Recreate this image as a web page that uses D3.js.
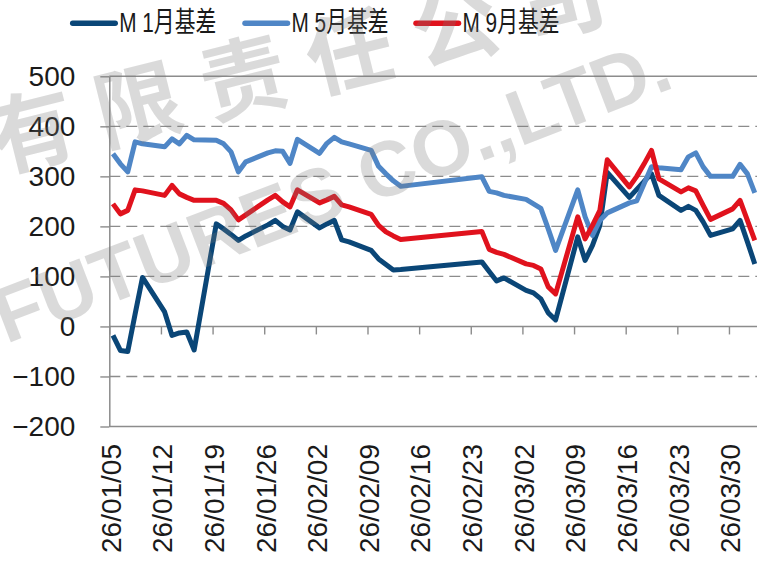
<!DOCTYPE html>
<html>
<head>
<meta charset="utf-8">
<script src="https://cdn.jsdelivr.net/npm/d3@7"></script>
<style>
  body { margin: 0; background: #fff; }
  svg { display: block; }
</style>
</head>
<body>
<div id="chart"></div>
<script>
"use strict";

// trading days (Feb 14-23 is the spring festival break)
const dates = [
  "2026-01-05","2026-01-06","2026-01-07","2026-01-08","2026-01-09",
  "2026-01-12","2026-01-13","2026-01-14","2026-01-15","2026-01-16",
  "2026-01-19","2026-01-20","2026-01-21","2026-01-22","2026-01-23",
  "2026-01-26","2026-01-27","2026-01-28","2026-01-29","2026-01-30",
  "2026-02-02","2026-02-03","2026-02-04","2026-02-05","2026-02-06",
  "2026-02-09","2026-02-10","2026-02-11","2026-02-12","2026-02-13",
  "2026-02-24","2026-02-25","2026-02-26","2026-02-27",
  "2026-03-02","2026-03-03","2026-03-04","2026-03-05","2026-03-06",
  "2026-03-09","2026-03-10","2026-03-11","2026-03-12","2026-03-13",
  "2026-03-16","2026-03-17","2026-03-18","2026-03-19","2026-03-20",
  "2026-03-23","2026-03-24","2026-03-25","2026-03-26","2026-03-27",
  "2026-03-30","2026-03-31","2026-04-01","2026-04-02"
];

const m1Basis = [
  -18, -48, -50, 25, 98,
  29, -18, -13, -11, -47,
  205, 195, 184, 172, 181,
  203, 212, 200, 193, 229,
  197, 205, 212, 173, 169,
  152, 135, 124, 113, 114,
  129, 110, 91, 97,
  72, 67, 55, 27, 13,
  179, 132, 162, 202, 308,
  258, 274, 290, 305, 262,
  232, 240, 232, 209, 182,
  195, 212, 169, 125
];

const m5Basis = [
  345, 325, 309, 369, 365,
  359, 375, 365, 382, 373,
  372, 365, 349, 309, 329,
  347, 351, 350, 326, 374,
  346, 366, 378, 369, 365,
  352, 320, 305, 291, 280,
  299, 270, 267, 262,
  254, 245, 236, 195, 152,
  273, 219, 182, 212, 227,
  247, 251, 285, 319, 317,
  313, 339, 347, 319, 300,
  300, 324, 305, 267
];

const m9Basis = [
  245, 225, 232, 273, 271,
  262, 282, 265, 258, 252,
  252, 246, 233, 213, 223,
  253, 262, 249, 239, 273,
  247, 253, 260, 243, 239,
  224, 202, 189, 181, 174,
  190, 154, 148, 144,
  125, 122, 115, 79, 65,
  219, 175, 202, 232, 333,
  279, 300, 325, 352, 295,
  269, 277, 271, 242, 214,
  235, 252, 212, 172
];

const seriesNames = ["M 1月基差", "M 5月基差", "M 9月基差"];
const seriesColors = ["#0a4677", "#4f86c6", "#e0121d"];
const yTicks = [-200, -100, 0, 100, 200, 300, 400, 500];

const msm = {
  width: 757,
  height: 561,
  left: 109.3,
  top: 76.3,
  bottom: 426.5,
  dayWidth: 7.377
};

const fontFamily = '"Liberation Sans", Arial, "Noto Sans CJK SC", sans-serif';
const gridColor = "#8c8c8c";

const parseDate = d3.utcParse("%Y-%m-%d");
const dateValues = dates.map(parseDate);

const svg = d3.select("#chart")
  .append("svg")
  .attr("width", msm.width)
  .attr("height", msm.height)
  .style("font-family", fontFamily);

// date axis: each day is one slot, points sit in the middle of their slot
const start = parseDate("2026-01-05");
const end = parseDate("2026-04-04");
const x = d3.scaleUtc()
  .domain([start, end])
  .range([msm.left, msm.left + d3.utcDay.count(start, end) * msm.dayWidth]);

const y = d3.scaleLinear()
  .domain([-200, 500])
  .range([msm.bottom, msm.top]);

// horizontal grid lines, dashed except top, zero and bottom
svg.append("g")
  .selectAll("line")
  .data(yTicks)
  .enter()
  .append("line")
  .attr("x1", msm.left)
  .attr("x2", msm.width)
  .attr("y1", d => y(d))
  .attr("y2", d => y(d))
  .attr("stroke", gridColor)
  .attr("stroke-width", 1.4)
  .attr("stroke-dasharray", d => (d === 500 || d === 0 || d === -200) ? null : "11,6");

// y axis
const yAxis = svg.append("g")
  .attr("transform", "translate(" + msm.left + ",0)")
  .call(d3.axisLeft(y).tickValues(yTicks).tickSize(9).tickSizeOuter(0).tickPadding(25));
yAxis.select(".domain").attr("stroke", gridColor).attr("stroke-width", 1.5);
yAxis.selectAll(".tick line").attr("stroke", gridColor).attr("stroke-width", 1.4);
yAxis.selectAll(".tick text")
  .attr("fill", "#1a1a1a")
  .style("font-size", "28px")
  .style("font-family", fontFamily);

// weekly ticks on the zero line
const mondays = d3.utcMonday.range(start, parseDate("2026-03-31"));
const xTickAxis = svg.append("g")
  .attr("transform", "translate(0," + y(0) + ")")
  .call(d3.axisBottom(x).tickValues(mondays).tickSize(8).tickSizeOuter(0).tickFormat(""));
xTickAxis.select(".domain").remove();
xTickAxis.selectAll(".tick line").attr("stroke", gridColor).attr("stroke-width", 1.4);

// date labels under the plot, rotated
const xLabelAxis = svg.append("g")
  .attr("transform", "translate(0,444)")
  .call(d3.axisBottom(x).tickValues(mondays).tickSize(0).tickFormat(d3.utcFormat("%y/%m/%d")));
xLabelAxis.select(".domain").remove();
xLabelAxis.selectAll(".tick text")
  .attr("transform", "rotate(-90)")
  .attr("x", 0)
  .attr("y", 1)
  .attr("dy", "0.35em")
  .attr("text-anchor", "end")
  .attr("fill", "#1a1a1a")
  .style("font-size", "28px")
  .style("font-family", fontFamily);

// series lines
const allSeries = [m1Basis, m5Basis, m9Basis];
const line = d3.line()
  .x((d, i) => x(d3.utcHour.offset(dateValues[i], 12)))
  .y(d => y(d));

svg.append("g")
  .selectAll("path")
  .data(allSeries)
  .enter()
  .append("path")
  .attr("d", d => line(d))
  .attr("fill", "none")
  .attr("stroke", (d, i) => seriesColors[i])
  .attr("stroke-width", 5)
  .attr("stroke-linejoin", "round");

// legend
const legendX = [72.7, 245, 416];
const legend = svg.append("g")
  .selectAll("g")
  .data(seriesNames)
  .enter()
  .append("g")
  .attr("transform", (d, i) => "translate(" + legendX[i] + ",0)");
legend.append("line")
  .attr("x1", 0)
  .attr("x2", 42.5)
  .attr("y1", 23.3)
  .attr("y2", 23.3)
  .attr("stroke", (d, i) => seriesColors[i])
  .attr("stroke-width", 5.5)
  .attr("stroke-linecap", "round");
legend.append("text")
  .attr("x", 46.5)
  .attr("y", 31.7)
  .attr("fill", "#1a1a1a")
  .attr("textLength", 97)
  .attr("lengthAdjust", "spacingAndGlyphs")
  .style("font-size", "28px")
  .text(d => d);

// watermark over the chart
const mark = svg.append("g")
  .attr("fill", "#7a7a7a")
  .attr("opacity", 0.27)
  .style("font-weight", "bold")
  .style("pointer-events", "none");
mark.append("text")
  .attr("transform", "translate(-2,172) rotate(-14)")
  .attr("x", -218)
  .style("font-size", "86px")
  .style("letter-spacing", "23px")
  .style("font-family", '"Noto Sans CJK SC", sans-serif')
  .text("期货有限责任公司");
mark.append("text")
  .attr("transform", "translate(6,344) rotate(-21)")
  .style("font-size", "78px")
  .style("font-family", '"Liberation Sans", Arial, sans-serif')
  .text("FUTURES CO.,LTD.");
</script>
</body>
</html>
